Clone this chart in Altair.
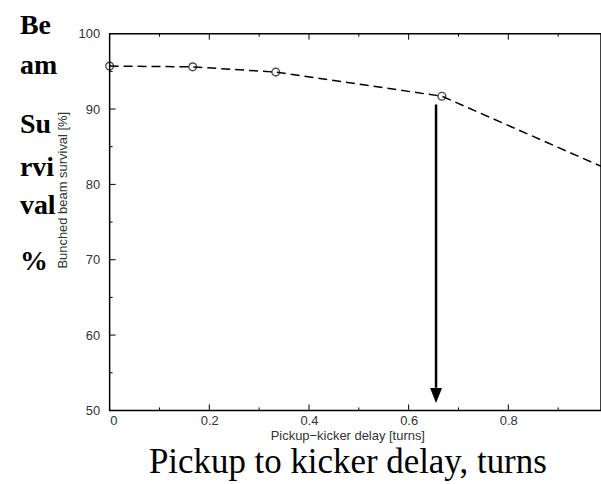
import altair as alt
import pandas as pd

# ---- data ----
delay = [0.0, 1/6, 1/3, 2/3, 1.0]
survival = [95.7, 95.6, 94.9, 91.7, 82.0]
marker_delay = [0.0, 1/6, 1/3, 2/3]
marker_survival = [95.7, 95.6, 94.9, 91.7]

arrow_x = [0.655]
arrow_top = [90.6]
arrow_bottom = [53.0]
arrow_tip = [51.0]

x_major = [0.2, 0.4, 0.6, 0.8]
x_minor = [0.1, 0.3, 0.5, 0.7, 0.9]
y_major = [60, 70, 80, 90]
y_minor = [55, 65, 75, 85, 95]
x_labels = [0, 0.2, 0.4, 0.6, 0.8]
y_labels = [50, 60, 70, 80, 90, 100]

left_words = ["Be", "am", "Su", "rvi", "val", "%"]
left_baselines = [0, 40, 100, 143, 181, 237]  # px below plot top

y_title = "Bunched beam survival [%]"
x_title = "Pickup\u2212kicker delay [turns]"
big_x_title = "Pickup to kicker delay, turns"

W, H = 493, 378
XMAX = W / 500.0

xs = alt.Scale(domain=[0, XMAX], nice=False, zero=False)
ys = alt.Scale(domain=[50, 100], nice=False, zero=False)

line_df = pd.DataFrame({"d": delay, "s": survival})
mk_df = pd.DataFrame({"d": marker_delay, "s": marker_survival})
arr_df = pd.DataFrame({"d": arrow_x, "top": arrow_top, "bot": arrow_bottom, "tip": arrow_tip})

line = alt.Chart(line_df).mark_line(
    color="black", strokeDash=[9, 5], strokeWidth=1.5, clip=True
).encode(
    x=alt.X("d:Q", scale=xs,
            axis=alt.Axis(values=x_labels, format="~g", title=None, labelPadding=4)),
    y=alt.Y("s:Q", scale=ys,
            axis=alt.Axis(values=y_labels, title=None, labelPadding=10)),
)

pts = alt.Chart(mk_df).mark_point(
    shape="circle", size=60, color="black", strokeWidth=1.4, filled=False
).encode(x=alt.X("d:Q", scale=xs), y=alt.Y("s:Q", scale=ys))

arrow_shaft = alt.Chart(arr_df).mark_rule(color="black", strokeWidth=2.5).encode(
    x=alt.X("d:Q", scale=xs), y=alt.Y("top:Q", scale=ys), y2="bot:Q"
)
arrow_head = alt.Chart(arr_df).mark_point(
    shape="M -0.8 -2 L 0.8 -2 L 0 0 Z", size=225, filled=True, color="black", opacity=1
).encode(x=alt.X("d:Q", scale=xs), y=alt.Y("tip:Q", scale=ys))

def xticks(vals, length):
    df = pd.DataFrame({"d": vals})
    bot = alt.Chart(df).mark_rule(color="black", strokeWidth=1).encode(
        x=alt.X("d:Q", scale=xs), y=alt.value(H), y2=alt.value(H - length))
    top = alt.Chart(df).mark_rule(color="black", strokeWidth=1).encode(
        x=alt.X("d:Q", scale=xs), y=alt.value(0), y2=alt.value(length))
    return [bot, top]

def yticks(vals, length):
    df = pd.DataFrame({"s": vals})
    return [alt.Chart(df).mark_rule(color="black", strokeWidth=1).encode(
        y=alt.Y("s:Q", scale=ys), x=alt.value(0), x2=alt.value(length))]

ticks = xticks(x_major, 6) + xticks(x_minor, 3) + yticks(y_major, 6) + yticks(y_minor, 3)

words_df = pd.DataFrame({"w": left_words, "b": left_baselines})
left_text = alt.Chart(words_df).mark_text(
    font="Liberation Serif", fontWeight="bold", fontSize=28, align="left",
    baseline="alphabetic", color="black"
).encode(text="w:N", x=alt.value(-90), y=alt.Y("b:Q", scale=None))

ytitle = alt.Chart(pd.DataFrame({"t": [y_title]})).mark_text(
    font="Liberation Sans", fontSize=13, angle=270, align="center",
    baseline="middle", color="#333333"
).encode(text="t:N", x=alt.value(-47), y=alt.value(157))

xtitle = alt.Chart(pd.DataFrame({"t": [x_title]})).mark_text(
    font="Liberation Sans", fontSize=13, align="center", baseline="middle", color="#333333"
).encode(text="t:N", x=alt.value(239), y=alt.value(404))

bigx = alt.Chart(pd.DataFrame({"t": [big_x_title]})).mark_text(
    font="Liberation Serif", fontSize=35, align="center", baseline="alphabetic", color="black"
).encode(text="t:N", x=alt.value(239), y=alt.value(441))

chart = alt.layer(line, pts, arrow_shaft, arrow_head, *ticks, left_text, ytitle, xtitle, bigx).properties(
    width=W, height=H,
    autosize=alt.AutoSizeParams(type="none"),
    padding={"left": 110, "top": 33, "right": 0, "bottom": 73},
    background="white",
).configure_view(stroke="black", strokeWidth=1.5).configure_axis(
    domain=False, ticks=False, grid=False,
    labelFont="Liberation Sans", labelFontSize=13, labelColor="#333333",
)

chart.save("out.html", embed_options={"renderer": "svg", "actions": False})
